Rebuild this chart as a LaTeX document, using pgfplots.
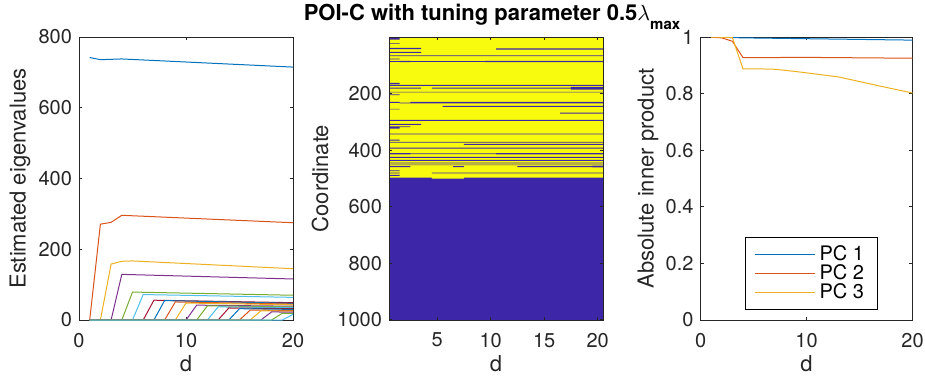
\documentclass[border=0pt]{standalone}
\usepackage{pgfplots}
\pgfplotsset{compat=1.18}
\usepackage{fontspec}
\setmainfont{TeX Gyre Heros}
\definecolor{mc1}{rgb}{0,0.447,0.741}
\definecolor{mc2}{rgb}{0.85,0.325,0.098}
\definecolor{mc3}{rgb}{0.929,0.694,0.125}
\definecolor{mc4}{rgb}{0.494,0.184,0.556}
\definecolor{mc5}{rgb}{0.466,0.674,0.188}
\definecolor{mc6}{rgb}{0.301,0.745,0.933}
\definecolor{mc7}{rgb}{0.635,0.078,0.184}
\definecolor{axgray}{rgb}{0.15,0.15,0.15}
\definecolor{pblue}{rgb}{0.2422,0.1504,0.6603}
\definecolor{pyellow}{rgb}{0.9763,0.9831,0.0538}
\pgfplotsset{
  mstyle/.style={
    scale only axis, width=107pt, height=141.5pt,
    anchor=south west,
    axis line style={axgray, line width=0.4pt},
    every tick/.style={axgray, line width=0.4pt},
    major tick length=1.6pt,
    tick align=inside,
    tick label style={font=\fontsize{10}{12}\selectfont, text=axgray},
    xticklabel style={yshift=-3pt},
    label style={font=\fontsize{11}{13}\selectfont, text=axgray},
    /pgf/number format/assume math mode=true,
    /pgf/number format/1000 sep={},
    xlabel={d},
    xlabel style={at={(axis description cs:0.5,0)}, yshift=-22pt, anchor=center},
  },
  every axis plot/.append style={line width=0.5pt},
}
\begin{document}
\begin{tikzpicture}
\useasboundingbox (0,0) rectangle (462.5pt,188.5pt);
% ---------------- left panel ----------------
\begin{axis}[mstyle, at={(39.5pt,28.5pt)},
  xmin=0, xmax=20, ymin=0, ymax=800,
  xtick={0,10,20}, ytick={0,200,400,600,800},
  ylabel={Estimated eigenvalues},
  ylabel style={at={(axis description cs:-0.276,0.5)}, anchor=center},
]
\addplot[mc1] coordinates {(1,742)(2,736)(3,737)(4,738)(20,715)};
\addplot[mc2] coordinates {(1,0)(2,271)(3,276)(4,296)(20,275)};
\addplot[mc3] coordinates {(1,0)(2,0)(3,158)(4,166)(5,167)(20,145)};
\addplot[mc4] coordinates {(1,0)(3,0)(4,129)(20,116)};
\addplot[mc5] coordinates {(1,0)(4,0)(5,79)(20,70)};
\addplot[mc6] coordinates {(1,0)(5,0)(6,72)(20,64)};
\addplot[mc7] coordinates {(1,0)(6,0)(7,56)(20,49)};
\addplot[mc1] coordinates {(1,0)(7,0)(8,55)(20,47)};
\addplot[mc2] coordinates {(1,0)(8,0)(9,51)(20,45)};
\addplot[mc3] coordinates {(1,0)(9,0)(10,48)(20,43)};
\addplot[mc4] coordinates {(1,0)(10,0)(11,42)(20,39)};
\addplot[mc5] coordinates {(1,0)(11,0)(12,40)(20,37)};
\addplot[mc6] coordinates {(1,0)(12,0)(13,37)(20,35)};
\addplot[mc7] coordinates {(1,0)(13,0)(14,34)(20,32)};
\addplot[mc1] coordinates {(1,0)(14,0)(15,32)(20,30)};
\addplot[mc2] coordinates {(1,0)(15,0)(16,28)(20,27)};
\addplot[mc3] coordinates {(1,0)(16,0)(17,26)(20,25)};
\addplot[mc4] coordinates {(1,0)(17,0)(18,23)(20,22)};
\addplot[mc5] coordinates {(1,0)(18,0)(19,19)(20,18.5)};
\addplot[mc6] coordinates {(1,0)(19,0)(20,16)};
\end{axis}
% ---------------- middle panel ----------------
\begin{axis}[mstyle, at={(194.5pt,28.5pt)},
  xmin=0.5, xmax=20.5, ymin=0.5, ymax=1000.5, y dir=reverse,
  xtick={5,10,15,20}, ytick={200,400,600,800,1000},
  ylabel={Coordinate},
  ylabel style={at={(axis description cs:-0.322,0.5)}, anchor=center},
  axis on top, unbounded coords=jump,
]
\addplot[fill=pblue, draw=none] coordinates {(0.5,0.5)(20.5,0.5)(20.5,1000.5)(0.5,1000.5)} -- cycle;
\addplot[fill=pyellow, draw=none] coordinates {(0.5,0.5)(20.5,0.5)(20.5,497.5)(7.5,497.5)(7.5,500.5)(4.5,500.5)(4.5,497.5)(0.5,497.5)} -- cycle;
\addplot[fill=pblue, draw=none] coordinates {
(0.5,0.5)(1.5,0.5)(1.5,9.5)(0.5,9.5)(nan,nan)
(0.5,23)(1.5,23)(1.5,25)(0.5,25)(nan,nan)
(0.5,39)(3.5,39)(3.5,43)(0.5,43)(nan,nan)
(10.5,41)(20.5,41)(20.5,45)(10.5,45)(nan,nan)
(0.5,53)(3.5,53)(3.5,56.5)(0.5,56.5)(nan,nan)
(0.5,65.5)(20.5,65.5)(20.5,68)(0.5,68)(nan,nan)
(0.5,77)(1.5,77)(1.5,79.5)(0.5,79.5)(nan,nan)
(0.5,86)(20.5,86)(20.5,88)(0.5,88)(nan,nan)
(1.5,85)(2.5,85)(2.5,89)(1.5,89)(nan,nan)
(9.5,85)(20.5,85)(20.5,89)(9.5,89)(nan,nan)
(0.5,163)(1.5,163)(1.5,167)(0.5,167)(nan,nan)
(0.5,169.5)(20.5,169.5)(20.5,173)(0.5,173)(nan,nan)
(0.5,179)(3.5,179)(3.5,183)(0.5,183)(nan,nan)
(4.5,179)(20.5,179)(20.5,183)(4.5,183)(nan,nan)
(17.5,177)(20.5,177)(20.5,186)(17.5,186)(nan,nan)
(0.5,194)(20.5,194)(20.5,196.5)(0.5,196.5)(nan,nan)
(0.5,203)(1.5,203)(1.5,205.5)(0.5,205.5)(nan,nan)
(0.5,230)(1.5,230)(1.5,233)(0.5,233)(nan,nan)
(1.5,232)(2.5,232)(2.5,235)(1.5,235)(nan,nan)
(2.5,230)(20.5,230)(20.5,235)(2.5,235)(nan,nan)
(5.5,244)(20.5,244)(20.5,247)(5.5,247)(nan,nan)
(0.5,254)(1.5,254)(1.5,256.5)(0.5,256.5)(nan,nan)
(16.5,268)(20.5,268)(20.5,271)(16.5,271)(nan,nan)
(0.5,293)(20.5,293)(20.5,297)(0.5,297)(nan,nan)
(0.5,307)(3.5,307)(3.5,311)(0.5,311)(nan,nan)
(0.5,316)(2.5,316)(2.5,318.5)(0.5,318.5)(nan,nan)
(0.5,320)(1.5,320)(1.5,324)(0.5,324)(nan,nan)
(0.5,342)(20.5,342)(20.5,344.5)(0.5,344.5)(nan,nan)
(0.5,363)(1.5,363)(1.5,366.5)(0.5,366.5)(nan,nan)
(0.5,371)(20.5,371)(20.5,374)(0.5,374)(nan,nan)
(7.5,378.5)(20.5,378.5)(20.5,381.5)(7.5,381.5)(nan,nan)
(0.5,391)(20.5,391)(20.5,395)(0.5,395)(nan,nan)
(0.5,411)(2.5,411)(2.5,415)(0.5,415)(nan,nan)
(2.5,412)(10.5,412)(10.5,414.5)(2.5,414.5)(nan,nan)
(10.5,411)(20.5,411)(20.5,415)(10.5,415)(nan,nan)
(0.5,424)(20.5,424)(20.5,427.5)(0.5,427.5)(nan,nan)
(0.5,434.5)(20.5,434.5)(20.5,438)(0.5,438)(nan,nan)
(0.5,444.5)(20.5,444.5)(20.5,447)(0.5,447)(nan,nan)
(0.5,451)(20.5,451)(20.5,453.5)(0.5,453.5)(nan,nan)
(0.5,457)(2.5,457)(2.5,460)(0.5,460)(nan,nan)
(6.5,457)(7.5,457)(7.5,460)(6.5,460)(nan,nan)
(12.5,457)(19.5,457)(19.5,460)(12.5,460)(nan,nan)
(19.5,456)(20.5,456)(20.5,461)(19.5,461)(nan,nan)
(0.5,472)(1.5,472)(1.5,474.5)(0.5,474.5)(nan,nan)
(0.5,479.5)(1.5,479.5)(1.5,482.5)(0.5,482.5)(nan,nan)
(4.5,479.5)(20.5,479.5)(20.5,482.5)(4.5,482.5)(nan,nan)
(0.5,488)(1.5,488)(1.5,491)(0.5,491)
};
\end{axis}
% ---------------- right panel ----------------
\begin{axis}[mstyle, at={(350.3pt,28.5pt)}, width=106pt,
  xmin=0, xmax=20, ymin=0, ymax=1,
  xtick={0,10,20}, ytick={0,0.2,0.4,0.6,0.8,1},
  ylabel={Absolute inner product},
  ylabel style={at={(axis description cs:-0.248,0.5)}, anchor=center},
  legend style={at={(axis description cs:0.209,0.035)}, anchor=south west,
    draw=black, line width=0.4pt, fill=white,
    font=\fontsize{10}{12}\selectfont, inner xsep=4.5pt, inner ysep=2pt,
    row sep=-3.5pt, cells={anchor=west}},
  legend image code/.code={\draw[#1, line width=0.6pt] (0pt,0pt) -- (30pt,0pt);},
]
\addplot[mc1] coordinates {(1,0.999)(2,0.999)(3,0.998)(4,0.997)(10,0.994)(20,0.989)};
\addlegendentry{PC 1}
\addplot[mc2] coordinates {(1,0.999)(2,0.997)(3,0.985)(4,0.927)(10,0.928)(20,0.925)};
\addlegendentry{PC 2}
\addplot[mc3] coordinates {(1,1)(2,0.999)(3,0.998)(4,0.887)(6,0.887)(7,0.886)(9,0.878)(13,0.859)(17,0.826)(20,0.802)};
\addlegendentry{PC 3}
\end{axis}
\node[anchor=base, font=\bfseries\fontsize{11}{13}\selectfont, text=black, inner sep=0pt]
  at (246pt,178.5pt) {POI-C with tuning parameter 0.5$\lambda$\raisebox{-4.5pt}{\fontsize{7.5}{9}\selectfont max}};
\end{tikzpicture}
\end{document}
